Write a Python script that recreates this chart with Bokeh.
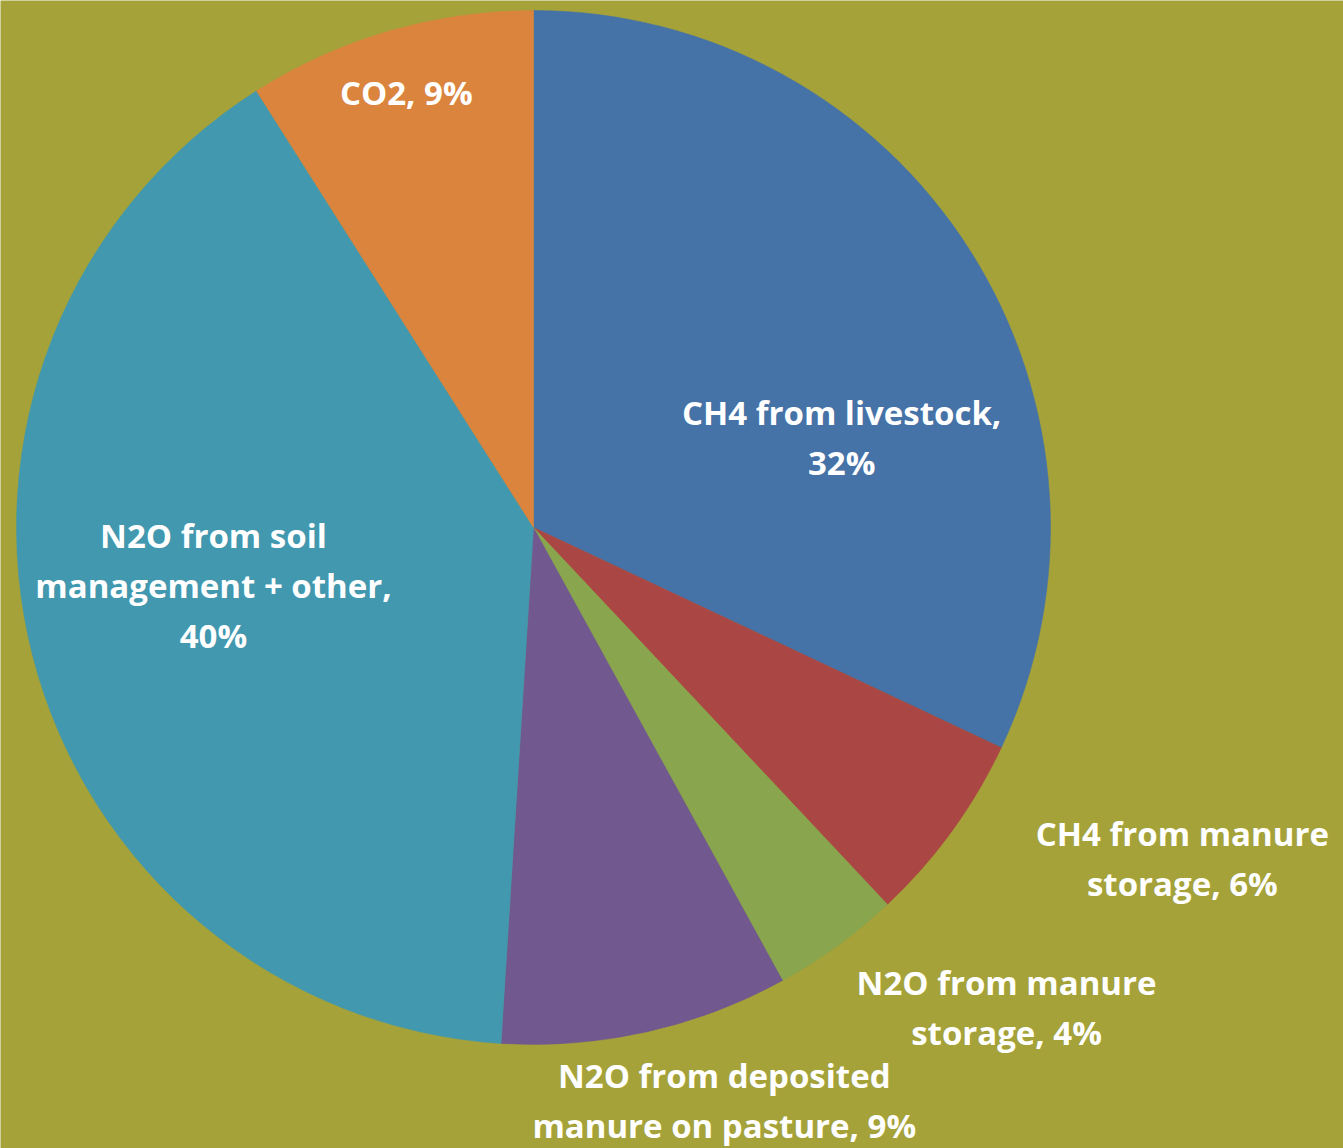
import math
from bokeh.plotting import figure
from bokeh.models import ColumnDataSource, Range1d
from bokeh.core.properties import value
from bokeh.embed import file_html
from bokeh.resources import INLINE

# ---- data ----
categories = [
    "CH4 from livestock",
    "CH4 from manure storage",
    "N2O from manure storage",
    "N2O from deposited manure on pasture",
    "N2O from soil management + other",
    "CO2",
]
shares = [32, 6, 4, 9, 40, 9]
label_texts = [
    "CH4 from livestock,\n32%",
    "CH4 from manure\nstorage, 6%",
    "N2O from manure\nstorage, 4%",
    "N2O from deposited\nmanure on pasture, 9%",
    "N2O from soil\nmanagement + other,\n40%",
    "CO2, 9%",
]
colors = ["#4572A7", "#AA4643", "#89A54E", "#71588F", "#4198AF", "#DB843D"]

# ---- layout ----
BG = "#A5A23A"
W, H = 1343, 1148
CX, CY = 533, H - 527
R = 517
# label anchor offsets, in units of the pie radius (x right, y up)
label_offsets = [
    (0.596, 0.174),
    (1.255, -0.640),
    (0.915, -0.928),
    (0.369, -1.108),
    (-0.619, -0.112),
    (-0.246, 0.841),
]

total = float(sum(shares))
starts, ends = [], []
cum = 0.0
for s in shares:
    a0 = math.pi / 2 - 2 * math.pi * (cum + s) / total
    a1 = math.pi / 2 - 2 * math.pi * cum / total
    starts.append(a0)
    ends.append(a1)
    cum += s

src = ColumnDataSource(dict(
    cat=categories, share=shares, color=colors,
    start=starts, end=ends,
    x=[CX] * len(shares), y=[CY] * len(shares),
))

lab = ColumnDataSource(dict(
    text=label_texts,
    x=[CX + dx * R for dx, dy in label_offsets],
    y=[CY + dy * R for dx, dy in label_offsets],
))

p = figure(width=W, height=H, x_range=Range1d(0, W), y_range=Range1d(0, H),
           output_backend="svg", toolbar_location=None,
           x_axis_type=None, y_axis_type=None, min_border=0,
           background_fill_color=BG, border_fill_color=BG,
           outline_line_color=None)
p.grid.visible = False

p.wedge(x="x", y="y", radius=R, start_angle="start", end_angle="end",
        direction="anticlock", fill_color="color", line_color="color",
        line_width=0.5, source=src)

p.text(x="x", y="y", text="text", source=lab,
       text_align="center", text_baseline="middle",
       text_font=value("Open Sans"), text_font_style="bold",
       text_font_size="33px", text_color="white", text_line_height=1.11)

html = file_html(p, INLINE)
html = html.replace("<body>", '<body style="margin:0;background-color:%s;">' % BG, 1)
open("out.html", "w").write(html)
